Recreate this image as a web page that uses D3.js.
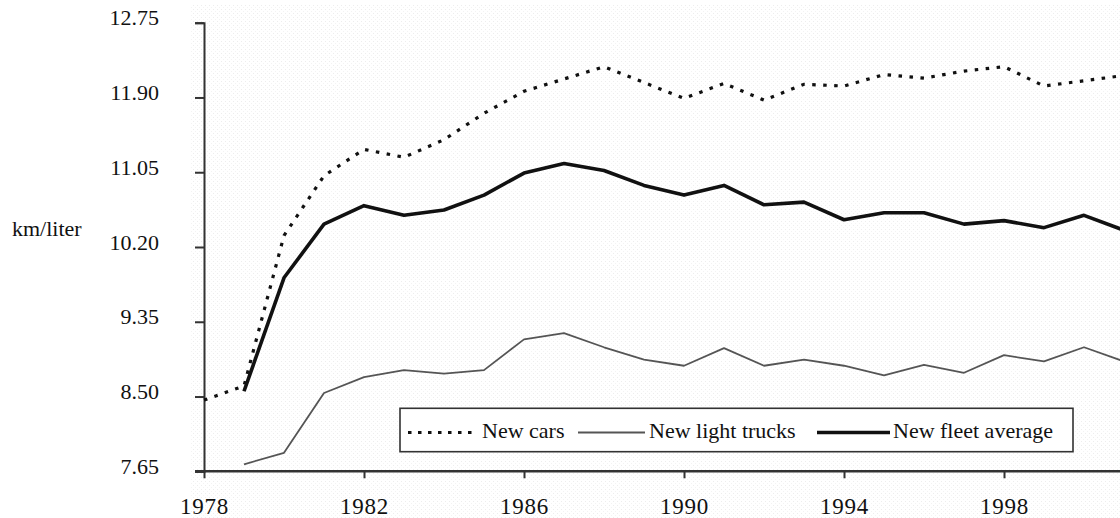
<!DOCTYPE html>
<html>
<head>
<meta charset="utf-8">
<script src="https://cdn.jsdelivr.net/npm/d3@7"></script>
<style>
  html, body { margin: 0; padding: 0; background: #fff; }
  svg { display: block; }
  text { font-family: "Liberation Serif", "Times New Roman", Times, serif; fill: #111; }
</style>
</head>
<body>
<svg id="chart" width="1120" height="518"></svg>
<script>
var years = d3.range(1978, 2002);
// new cars starts 1978, the other two 1979
var newCars = [8.46, 8.62, 10.33, 11.01, 11.31, 11.22, 11.42, 11.72, 11.97, 12.11, 12.25, 12.07,
               11.89, 12.06, 11.87, 12.05, 12.03, 12.16, 12.12, 12.20, 12.25, 12.03, 12.09, 12.15];
var lightTrucks = [null, 7.73, 7.86, 8.54, 8.72, 8.80, 8.76, 8.80, 9.15, 9.22, 9.06, 8.92,
                   8.85, 9.05, 8.85, 8.92, 8.85, 8.74, 8.86, 8.77, 8.97, 8.90, 9.06, 8.90];
var fleetAvg = [null, 8.56, 9.85, 10.46, 10.67, 10.56, 10.62, 10.79, 11.04, 11.15, 11.07, 10.90,
                10.79, 10.90, 10.68, 10.71, 10.51, 10.59, 10.59, 10.46, 10.50, 10.42, 10.56, 10.39];
var yTicks = [7.65, 8.50, 9.35, 10.20, 11.05, 11.90, 12.75];
var xTicks = [1978, 1982, 1986, 1990, 1994, 1998];
var legendLabels = ["New cars", "New light trucks", "New fleet average"];

var serif = "'Liberation Serif', 'Times New Roman', Times, serif";
var svg = d3.select("#chart");

var x = d3.scaleLinear().domain([1978, 2001]).range([204, 1124]);
var y = d3.scaleLinear().domain([7.65, 12.75]).range([471.3, 22.7]);

// faint scan stipple behind the plot
var defs = svg.append("defs");
var pat = defs.append("pattern")
    .attr("id", "stipple")
    .attr("width", 4).attr("height", 4)
    .attr("patternUnits", "userSpaceOnUse");
pat.append("rect").attr("width", 4).attr("height", 4).attr("fill", "#fff");
pat.append("rect").attr("x", 1).attr("y", 1).attr("width", 1).attr("height", 1).attr("fill", "#ededed");
pat.append("rect").attr("x", 3).attr("y", 3).attr("width", 1).attr("height", 1).attr("fill", "#f3f3f3");

svg.append("rect")
    .attr("x", 190).attr("y", 5)
    .attr("width", 930).attr("height", 513)
    .attr("fill", "url(#stipple)");

// y axis
var yAxis = d3.axisLeft(y)
    .tickValues(yTicks)
    .tickSize(9)
    .tickPadding(36)
    .tickFormat(d3.format(".2f"));

var gy = svg.append("g")
    .attr("transform", "translate(204,0)")
    .call(yAxis)
    .attr("font-family", serif);
gy.select(".domain").attr("stroke", "#333").attr("stroke-width", 2);
gy.selectAll(".tick line").attr("stroke", "#333").attr("stroke-width", 2);
gy.selectAll(".tick text")
    .attr("font-size", 22)
    .attr("dy", 2)
    .attr("fill", "#111");

// x axis
var xAxis = d3.axisBottom(x)
    .tickValues(xTicks)
    .tickSize(7)
    .tickSizeOuter(0)
    .tickPadding(20)
    .tickFormat(d3.format("d"));

var gx = svg.append("g")
    .attr("transform", "translate(0,471.3)")
    .call(xAxis)
    .attr("font-family", serif);
gx.select(".domain")
    .attr("d", "M195,0H1120")
    .attr("stroke", "#333").attr("stroke-width", 2.5);
gx.selectAll(".tick line").attr("stroke", "#333").attr("stroke-width", 2);
gx.selectAll(".tick text")
    .attr("font-size", 23)
    .attr("dy", 16)
    .attr("fill", "#222")
    .style("letter-spacing", "0.8px");

svg.append("text")
    .attr("x", 12).attr("y", 236)
    .attr("font-size", 22)
    .text("km/liter");

var line = d3.line()
    .defined(function (d) { return d.v != null; })
    .x(function (d) { return x(d.year); })
    .y(function (d) { return y(d.v); });

function series(vals) {
    return years.map(function (yr, i) { return { year: yr, v: vals[i] }; });
}

var plot = svg.append("g");

plot.append("path")
    .datum(series(lightTrucks))
    .attr("fill", "none")
    .attr("stroke", "#555")
    .attr("stroke-width", 1.8)
    .attr("stroke-linejoin", "round")
    .attr("d", line);

plot.append("path")
    .datum(series(fleetAvg))
    .attr("fill", "none")
    .attr("stroke", "#111")
    .attr("stroke-width", 3.6)
    .attr("stroke-linejoin", "round")
    .attr("d", line);

plot.append("path")
    .datum(series(newCars))
    .attr("fill", "none")
    .attr("stroke", "#111")
    .attr("stroke-width", 3.2)
    .attr("stroke-dasharray", "3.5,7.5")
    .attr("d", line);

// legend
var legend = svg.append("g");
legend.append("rect")
    .attr("x", 400).attr("y", 408.3)
    .attr("width", 673).attr("height", 43.4)
    .attr("fill", "#fff")
    .attr("stroke", "#333")
    .attr("stroke-width", 1.6);

var legendItems = [
    { x1: 408, x2: 478, tx: 482, stroke: "#111", width: 3.2, dash: "3.5,6.5" },
    { x1: 578, x2: 645, tx: 649, stroke: "#555", width: 1.8, dash: null },
    { x1: 817, x2: 890, tx: 893, stroke: "#111", width: 3.6, dash: null }
];

legendItems.forEach(function (it, i) {
    legend.append("line")
        .attr("x1", it.x1).attr("x2", it.x2)
        .attr("y1", 432.5).attr("y2", 432.5)
        .attr("stroke", it.stroke)
        .attr("stroke-width", it.width)
        .attr("stroke-dasharray", it.dash);
    legend.append("text")
        .attr("x", it.tx).attr("y", 437.5)
        .attr("font-size", 22)
        .attr("font-family", serif)
        .text(legendLabels[i]);
});
</script>
</body>
</html>
